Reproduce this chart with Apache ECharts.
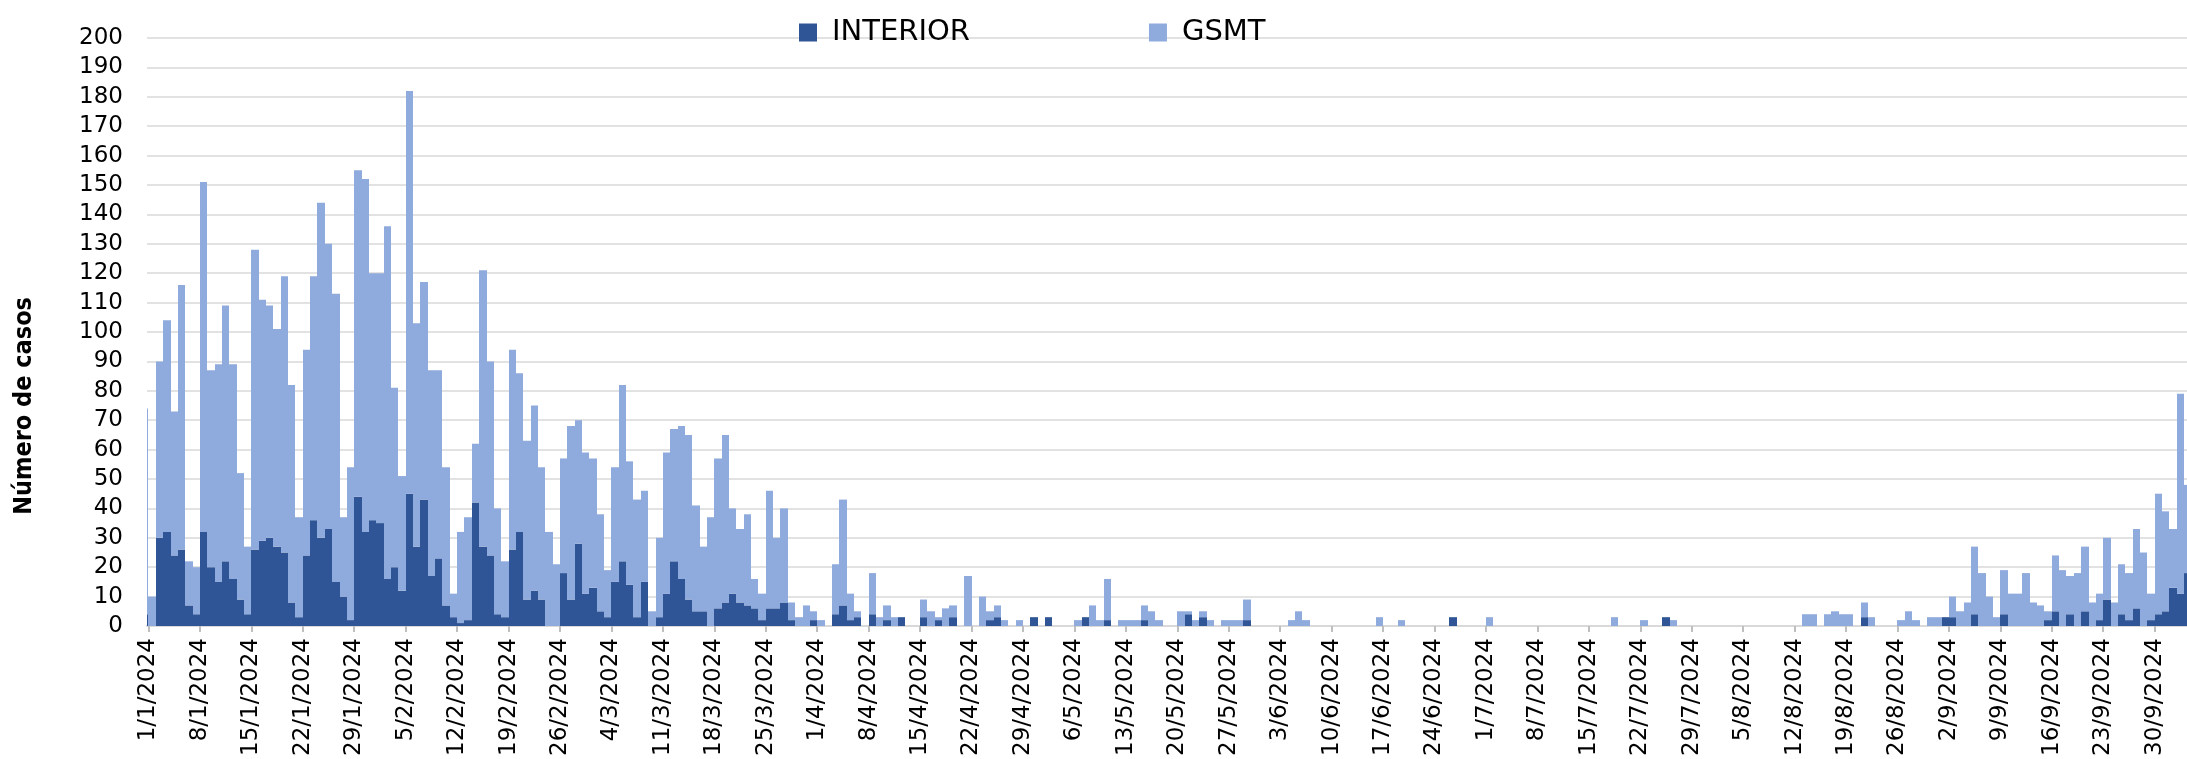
<!DOCTYPE html>
<html>
<head>
<meta charset="utf-8">
<title>Casos por día</title>
<script src="https://cdn.jsdelivr.net/npm/echarts@6/dist/echarts.min.js"></script>
<style>
  html, body { margin: 0; padding: 0; background: #fff; }
  #chart { width: 2187px; height: 759px; }
</style>
</head>
<body>
<div id="chart"></div>
<script>
// one value per day; first entry is 31/12/2023 (only a sliver of it is visible), then 1/1/2024 ... 4/10/2024
const interior = [
  4,
  0, 30, 32, 24, 26, 7, 4,
  32, 20, 15, 22, 16, 9, 4,
  26, 29, 30, 27, 25, 8, 3,
  24, 36, 30, 33, 15, 10, 2,
  44, 32, 36, 35, 16, 20, 12,
  45, 27, 43, 17, 23, 7, 3,
  1, 2, 42, 27, 24, 4, 3,
  26, 32, 9, 12, 9, 0, 0,
  18, 9, 28, 11, 13, 5, 3,
  15, 22, 14, 3, 15, 0, 3,
  11, 22, 16, 9, 5, 5, 0,
  6, 8, 11, 8, 7, 6, 2,
  6, 6, 8, 2, 0, 0, 2,
  0, 0, 4, 7, 2, 3, 0,
  4, 0, 2, 0, 3, 0, 0,
  3, 0, 2, 0, 3, 0, 0,
  0, 0, 2, 3, 0, 0, 0,
  0, 3, 0, 3, 0, 0, 0,
  0, 3, 0, 0, 2, 0, 0,
  0, 0, 2, 0, 0, 0, 0,
  0, 4, 0, 3, 0, 0, 0,
  0, 0, 2, 0, 0, 0, 0,
  0, 0, 0, 0, 0, 0, 0,
  0, 0, 0, 0, 0, 0, 0,
  0, 0, 0, 0, 0, 0, 0,
  0, 0, 3, 0, 0, 0, 0,
  0, 0, 0, 0, 0, 0, 0,
  0, 0, 0, 0, 0, 0, 0,
  0, 0, 0, 0, 0, 0, 0,
  0, 0, 0, 3, 0, 0, 0,
  0, 0, 0, 0, 0, 0, 0,
  0, 0, 0, 0, 0, 0, 0,
  0, 0, 0, 0, 0, 0, 0,
  0, 0, 3, 0, 0, 0, 0,
  0, 0, 0, 0, 0, 0, 3,
  3, 0, 0, 4, 0, 0, 0,
  4, 0, 0, 0, 0, 0, 2,
  5, 0, 4, 0, 5, 0, 2,
  9, 0, 4, 2, 6, 0, 2,
  4, 5, 13, 11, 18
]

const gsmt = [
  70,
  10, 60, 72, 49, 90, 15, 16,
  119, 67, 74, 87, 73, 43, 23,
  102, 82, 79, 74, 94, 74, 34,
  70, 83, 114, 97, 98, 27, 52,
  111, 120, 84, 85, 120, 61, 39,
  137, 76, 74, 70, 64, 47, 8,
  31, 35, 20, 94, 66, 36, 19,
  68, 54, 54, 63, 45, 32, 21,
  39, 59, 42, 48, 44, 33, 16,
  39, 60, 42, 40, 31, 5, 27,
  48, 45, 52, 56, 36, 22, 37,
  51, 57, 29, 25, 31, 10, 9,
  40, 24, 32, 6, 3, 7, 3,
  2, 0, 17, 36, 9, 2, 0,
  14, 3, 5, 3, 0, 0, 0,
  6, 5, 1, 6, 4, 0, 17,
  0, 10, 3, 4, 2, 0, 2,
  0, 0, 0, 0, 0, 0, 0,
  2, 0, 7, 2, 14, 0, 2,
  2, 2, 5, 5, 2, 0, 0,
  5, 1, 2, 2, 2, 0, 2,
  2, 2, 7, 0, 0, 0, 0,
  0, 2, 5, 2, 0, 0, 0,
  0, 0, 0, 0, 0, 0, 3,
  0, 0, 2, 0, 0, 0, 0,
  0, 0, 0, 0, 0, 0, 0,
  3, 0, 0, 0, 0, 0, 0,
  0, 0, 0, 0, 0, 0, 0,
  0, 0, 0, 3, 0, 0, 0,
  2, 0, 0, 0, 2, 0, 0,
  0, 0, 0, 0, 0, 0, 0,
  0, 0, 0, 0, 0, 0, 0,
  0, 4, 4, 0, 4, 5, 4,
  4, 0, 5, 3, 0, 0, 0,
  2, 5, 2, 0, 3, 3, 0,
  7, 5, 8, 23, 18, 10, 3,
  15, 11, 11, 18, 8, 7, 3,
  19, 19, 13, 18, 22, 8, 9,
  21, 8, 17, 16, 27, 25, 9,
  41, 34, 20, 68, 30
]

// weekly tick labels, one every 7 days starting 1/1/2024
const tickLabels = [
  '1/1/2024', '8/1/2024', '15/1/2024', '22/1/2024', '29/1/2024',
  '5/2/2024', '12/2/2024', '19/2/2024', '26/2/2024',
  '4/3/2024', '11/3/2024', '18/3/2024', '25/3/2024',
  '1/4/2024', '8/4/2024', '15/4/2024', '22/4/2024', '29/4/2024',
  '6/5/2024', '13/5/2024', '20/5/2024', '27/5/2024',
  '3/6/2024', '10/6/2024', '17/6/2024', '24/6/2024',
  '1/7/2024', '8/7/2024', '15/7/2024', '22/7/2024', '29/7/2024',
  '5/8/2024', '12/8/2024', '19/8/2024', '26/8/2024',
  '2/9/2024', '9/9/2024', '16/9/2024', '23/9/2024', '30/9/2024'
]

const DARK = '#2f5597'
const LIGHT = '#8faadc'
const FONT = "'DejaVu Sans', Verdana, sans-serif"

// x axis is in days: 1/1/2024 starts at 0, so entry i of the arrays sits on [i-1, i]
// each point is [day start, bottom, top]; GSMT is stacked on INTERIOR
const interiorPts = interior.map((v, i) => [i - 1, 0, v])
const gsmtPts = gsmt.map((v, i) => [i - 1, interior[i], interior[i] + v])
const tickValues = tickLabels.map((_, k) => k * 7)

// one gap-free column per day, like Excel's 0% gap width
function dayColumn(params, api) {
  const d = api.value(0)
  const p0 = api.coord([d, api.value(1)])
  const p1 = api.coord([d + 1, api.value(2)])
  const x0 = Math.round(p0[0])
  const x1 = Math.round(p1[0])
  return {
    type: 'rect',
    shape: { x: x0, y: p1[1], width: x1 - x0, height: p0[1] - p1[1] },
    style: api.style()
  }
}

const chart = echarts.init(document.getElementById('chart'), null, { renderer: 'canvas' })

const option = {
  animation: false,
  backgroundColor: '#fff',
  legend: {
    top: 13,
    left: 794,
    itemWidth: 18,
    itemHeight: 18,
    itemGap: 179,
    icon: 'rect',
    textStyle: { fontFamily: FONT, fontSize: 29, color: '#000', padding: [0, 0, 0, 10] },
    data: ['INTERIOR', 'GSMT']
  },
  grid: { left: 147, right: 0, top: 38, bottom: 133, containLabel: false, outerBoundsMode: 'none' },
  xAxis: {
    type: 'value',
    min: -0.2,
    max: 277.4,
    axisLine: { show: true, onZero: false, lineStyle: { color: '#d9d9d9', width: 2 } },
    axisTick: { show: true, customValues: tickValues, length: 6, lineStyle: { color: '#bfbfbf', width: 2 } },
    axisLabel: {
      customValues: tickValues,
      rotate: 90,
      margin: 12,
      fontFamily: FONT,
      fontSize: 23,
      color: '#000',
      formatter: v => tickLabels[Math.round(v / 7)] || ''
    },
    splitLine: { show: false }
  },
  yAxis: {
    type: 'value',
    min: 0,
    max: 200,
    interval: 10,
    axisLine: { show: false },
    axisTick: { show: false },
    axisLabel: { margin: 24, fontFamily: FONT, fontSize: 23, color: '#000' },
    splitLine: { lineStyle: { color: '#d9d9d9', width: 1.5 } }
  },
  graphic: [{
    type: 'text',
    left: 12,
    top: 297,
    rotation: Math.PI / 2,
    style: {
      text: 'Número de casos',
      font: "bold 25px 'Liberation Sans Narrow', 'DejaVu Sans Condensed', sans-serif",
      fill: '#000'
    }
  }],
  series: [
    {
      name: 'INTERIOR',
      type: 'custom',
      clip: true,
      renderItem: dayColumn,
      itemStyle: { color: DARK },
      encode: { x: 0, y: [1, 2] },
      data: interiorPts
    },
    {
      name: 'GSMT',
      type: 'custom',
      clip: true,
      renderItem: dayColumn,
      itemStyle: { color: LIGHT },
      encode: { x: 0, y: [1, 2] },
      data: gsmtPts
    }
  ]
}

chart.setOption(option)
</script>
</body>
</html>
